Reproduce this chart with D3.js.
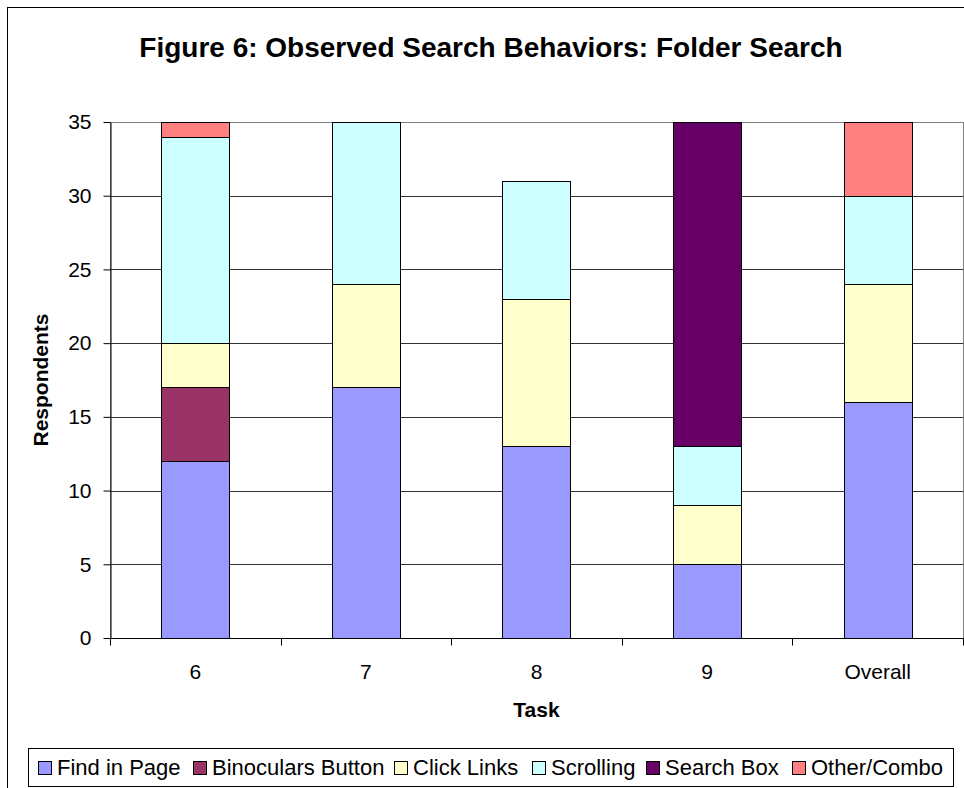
<!DOCTYPE html>
<html>
<head>
<meta charset="utf-8">
<script src="https://cdn.jsdelivr.net/npm/d3@7"></script>
<style>
  html, body { margin: 0; padding: 0; background: #fff; }
  svg { display: block; }
  text { font-family: "Liberation Sans", Arial, sans-serif; fill: #000; }
</style>
</head>
<body>
<svg id="chart" width="964" height="788"></svg>
<script>
// Tasks along the x axis
const categories = ["6", "7", "8", "9", "Overall"];

// Respondents per observed behaviour, one value per task
const findInPage   = [12, 17, 13, 5, 16];
const binoculars   = [5, 0, 0, 0, 0];
const clickLinks   = [3, 7, 10, 4, 8];
const scrolling    = [14, 11, 8, 4, 6];
const searchBox    = [0, 0, 0, 22, 0];
const otherCombo   = [1, 0, 0, 0, 5];

const seriesNames  = ["Find in Page", "Binoculars Button", "Click Links", "Scrolling", "Search Box", "Other/Combo"];
const seriesValues = [findInPage, binoculars, clickLinks, scrolling, searchBox, otherCombo];
const seriesColors = ["#9999FF", "#993366", "#FFFFCC", "#CCFFFF", "#660066", "#FF8080"];

const yTicks = [0, 5, 10, 15, 20, 25, 30, 35];

const titleText = "Figure 6: Observed Search Behaviors: Folder Search";
const xTitle = "Task";
const yTitle = "Respondents";

const svg = d3.select("#chart");
const W = 964, H = 788;

// outer chart frame
svg.append("rect")
  .attr("x", 7.5).attr("y", 7.5)
  .attr("width", W + 20).attr("height", H + 20)
  .attr("fill", "#fff").attr("stroke", "#000").attr("stroke-width", 1);

const plot = { left: 110, right: 963, top: 122, bottom: 638 };

const x = d3.scaleBand()
  .domain(categories)
  .range([plot.left, plot.right])
  .paddingInner(0.6)
  .paddingOuter(0.3);

const y = d3.scaleLinear()
  .domain([0, 35])
  .range([plot.bottom, plot.top]);

// plot area border
svg.append("rect")
  .attr("x", plot.left + 0.5).attr("y", plot.top + 0.5)
  .attr("width", plot.right - plot.left).attr("height", plot.bottom - plot.top)
  .attr("fill", "none").attr("stroke", "#808080");

// horizontal gridlines
svg.append("g")
  .selectAll("line")
  .data(yTicks.filter(t => t > 0 && t < 35))
  .join("line")
  .attr("x1", plot.left).attr("x2", plot.right)
  .attr("y1", d => Math.round(y(d)) + 0.5).attr("y2", d => Math.round(y(d)) + 0.5)
  .attr("stroke", "#333").attr("stroke-width", 1);

// stacked bars
const rows = categories.map((c, i) => {
  const r = { cat: c };
  seriesNames.forEach((s, k) => { r[s] = seriesValues[k][i]; });
  return r;
});
const stacked = d3.stack().keys(seriesNames)(rows);

svg.append("g")
  .selectAll("g")
  .data(stacked)
  .join("g")
  .attr("fill", (d, k) => seriesColors[k])
  .selectAll("rect")
  .data(d => d.filter(p => p[1] > p[0]))
  .join("rect")
  .attr("x", d => Math.round(x(d.data.cat)) + 0.5)
  .attr("y", d => Math.round(y(d[1])) + 0.5)
  .attr("width", Math.round(x.bandwidth()))
  .attr("height", d => Math.round(y(d[0])) - Math.round(y(d[1])))
  .attr("stroke", "#000").attr("stroke-width", 1);

// y axis
const yAxis = d3.axisLeft(y).tickValues(yTicks).tickSize(7).tickPadding(12).tickSizeOuter(0);
const gy = svg.append("g")
  .attr("transform", `translate(${plot.left + 0.5},0)`)
  .call(yAxis);
gy.select(".domain").attr("stroke", "#000");
gy.selectAll(".tick line").attr("stroke", "#000");
gy.selectAll(".tick text").attr("font-size", 21).attr("font-family", "Liberation Sans, Arial, sans-serif").attr("fill", "#000");

// x axis with ticks at category boundaries
const gx = svg.append("g")
  .attr("transform", `translate(0,${plot.bottom + 0.5})`);
gx.append("line")
  .attr("x1", plot.left).attr("x2", plot.right + 1)
  .attr("stroke", "#000");
const step = (plot.right - plot.left) / categories.length;
gx.selectAll("line.tk")
  .data(d3.range(categories.length + 1))
  .join("line")
  .attr("class", "tk")
  .attr("x1", i => Math.round(plot.left + i * step) + 0.5)
  .attr("x2", i => Math.round(plot.left + i * step) + 0.5)
  .attr("y1", 0).attr("y2", 7)
  .attr("stroke", "#000");
gx.selectAll("text")
  .data(categories)
  .join("text")
  .attr("x", d => x(d) + x.bandwidth() / 2)
  .attr("y", 40)
  .attr("text-anchor", "middle")
  .attr("font-size", 21)
  .text(d => d);

// titles
svg.append("text")
  .attr("x", 491).attr("y", 57)
  .attr("text-anchor", "middle")
  .attr("font-size", 28).attr("font-weight", "bold")
  .text(titleText);

svg.append("text")
  .attr("x", (plot.left + plot.right) / 2).attr("y", 717)
  .attr("text-anchor", "middle")
  .attr("font-size", 21).attr("font-weight", "bold")
  .text(xTitle);

svg.append("text")
  .attr("transform", `translate(48,${(plot.top + plot.bottom) / 2}) rotate(-90)`)
  .attr("text-anchor", "middle")
  .attr("font-size", 21).attr("font-weight", "bold")
  .text(yTitle);

// legend
const legend = svg.append("g");
legend.append("rect")
  .attr("x", 28.5).attr("y", 748.5)
  .attr("width", 925).attr("height", 38)
  .attr("fill", "#fff").attr("stroke", "#000");

const legendX = [38, 193, 394, 532, 646, 792];
const items = legend.selectAll("g.item")
  .data(seriesNames)
  .join("g")
  .attr("class", "item")
  .attr("transform", (d, i) => `translate(${legendX[i]},761)`);
items.append("rect")
  .attr("x", 0.5).attr("y", 0.5)
  .attr("width", 13).attr("height", 13)
  .attr("fill", (d, i) => seriesColors[i])
  .attr("stroke", "#000");
items.append("text")
  .attr("x", 19).attr("y", 14)
  .attr("font-size", 22)
  .text(d => d);
</script>
</body>
</html>
